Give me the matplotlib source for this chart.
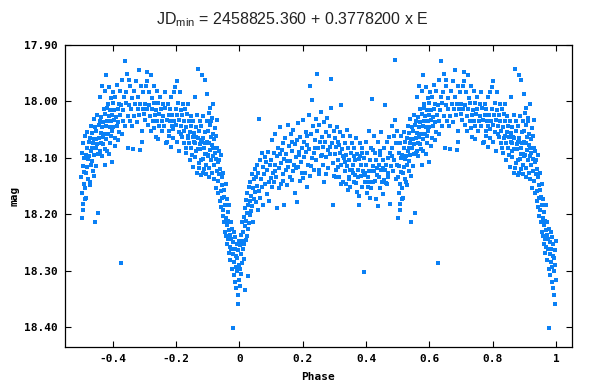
# Кривая блеска: звёздная величина в зависимости от фазы

import numpy as np
from matplotlib import pyplot as plt

# Данные (фаза и звёздная величина), считаны с рисунка по участкам
# Участок A: первый максимум
ph_a = [-0.499, -0.498, -0.497, -0.496, -0.495, -0.494, -0.493, -0.492, -0.491, -0.490,
        -0.489, -0.488, -0.486, -0.485, -0.484, -0.482, -0.481, -0.480, -0.478, -0.477,
        -0.476, -0.474, -0.473, -0.472, -0.470, -0.469, -0.468, -0.466, -0.465, -0.464,
        -0.462, -0.461, -0.460, -0.458, -0.457, -0.456, -0.454, -0.453, -0.452, -0.450,
        -0.449, -0.448, -0.446, -0.445, -0.444, -0.442, -0.441, -0.440, -0.438, -0.437,
        -0.436, -0.434, -0.433, -0.432, -0.430, -0.429, -0.428, -0.426, -0.425, -0.424,
        -0.422, -0.421, -0.420, -0.418, -0.417, -0.416, -0.414, -0.413, -0.412, -0.410,
        -0.409, -0.408, -0.406, -0.405, -0.404, -0.402, -0.401, -0.400, -0.398, -0.396,
        -0.395, -0.393, -0.392, -0.390, -0.388, -0.387, -0.385, -0.383, -0.382, -0.380,
        -0.378, -0.376, -0.374, -0.373, -0.371, -0.369, -0.367, -0.365, -0.363, -0.361,
        -0.359, -0.357, -0.355, -0.353, -0.351, -0.349, -0.347, -0.345, -0.343, -0.340,
        -0.338, -0.336, -0.334, -0.332, -0.330, -0.327, -0.325, -0.322, -0.320, -0.318,
        -0.316, -0.313, -0.311, -0.309, -0.306, -0.304, -0.302]
mag_a = [18.134, 18.207, 18.092, 18.163, 18.114, 18.182, 18.073, 18.146, 18.101, 18.125,
         18.062, 18.153, 18.094, 18.127, 18.171, 18.083, 18.116, 18.054, 18.138, 18.102,
         18.071, 18.096, 18.143, 18.064, 18.112, 18.043, 18.087, 18.105, 18.056, 18.124,
         18.073, 18.031, 18.094, 18.066, 18.213, 18.045, 18.082, 18.114, 18.053, 18.024,
         18.076, 18.093, 18.198, 18.042, 18.065, 18.034, 18.087, 17.993, 18.056, 18.027,
         18.074, 18.045, 17.972, 18.063, 18.036, 18.014, 18.057, 18.084, 18.023, 17.981,
         17.954, 18.043, 18.066, 18.012, 18.034, 18.004, 18.057, 18.026, 17.974, 18.045,
         18.073, 18.016, 18.035, 17.994, 18.052, 18.024, 18.003, 18.046, 17.983, 18.032,
         18.015, 18.064, 17.992, 18.027, 18.043, 17.971, 18.013, 18.036, 18.004, 18.055,
         17.982, 18.024, 18.287, 18.006, 17.962, 18.034, 18.015, 17.993, 17.928, 18.044,
         18.003, 17.984, 17.952, 18.026, 18.083, 18.007, 17.973, 18.035, 18.014, 17.994,
         18.043, 18.084, 18.025, 17.982, 18.004, 17.963, 18.036, 18.013, 17.992, 17.944,
         18.024, 18.005, 17.973, 18.052, 18.013, 17.984, 18.023]

# Участок B: спад к главному минимуму
ph_b = [-0.299, -0.297, -0.295, -0.293, -0.291, -0.289, -0.287, -0.285, -0.283, -0.281,
        -0.279, -0.277, -0.275, -0.273, -0.271, -0.269, -0.267, -0.265, -0.263, -0.261,
        -0.259, -0.257, -0.255, -0.253, -0.251, -0.249, -0.246, -0.244, -0.242, -0.240,
        -0.238, -0.236, -0.234, -0.232, -0.230, -0.228, -0.226, -0.224, -0.222, -0.220,
        -0.218, -0.216, -0.214, -0.212, -0.210, -0.208, -0.206, -0.204, -0.202, -0.200,
        -0.198, -0.196, -0.194, -0.192, -0.190, -0.188, -0.186, -0.184, -0.182, -0.180,
        -0.178, -0.176, -0.174, -0.172, -0.170, -0.168, -0.166, -0.164, -0.162, -0.160,
        -0.158, -0.156, -0.154, -0.152, -0.150, -0.148, -0.146, -0.144, -0.142, -0.140,
        -0.138, -0.136, -0.134, -0.132, -0.130, -0.128, -0.126, -0.124, -0.122, -0.120,
        -0.118, -0.116, -0.114, -0.112, -0.110, -0.108, -0.106, -0.104, -0.102]
mag_b = [18.004, 18.033, 17.972, 18.014, 17.963, 18.042, 18.006, 17.984, 18.025, 18.053,
         17.954, 18.013, 17.994, 18.034, 18.002, 17.973, 18.024, 18.063, 18.015, 17.982,
         18.034, 18.003, 18.044, 18.022, 17.993, 18.014, 18.053, 18.035, 18.004, 18.026,
         18.043, 17.984, 18.012, 18.074, 18.033, 18.071, 18.005, 18.024, 18.052, 18.013,
         18.034, 17.992, 18.043, 18.024, 18.064, 17.983, 18.035, 17.974, 18.013, 18.042,
         17.963, 18.024, 18.003, 18.054, 18.032, 17.984, 18.015, 18.043, 18.024, 18.063,
         18.004, 18.035, 18.053, 18.014, 18.083, 18.045, 18.023, 18.064, 18.005, 18.034,
         18.073, 18.054, 18.025, 18.043, 18.094, 18.063, 18.034, 18.056, 17.993, 18.074,
         18.045, 18.063, 18.024, 18.085, 17.942, 18.053, 18.034, 18.076, 18.104, 18.043,
         17.953, 18.064, 18.025, 18.083, 17.962, 18.054, 18.093, 18.034, 18.072]

# Участок C: главный минимум (нисходящая ветвь)
ph_c = [-0.1000, -0.0985, -0.0970, -0.0962, -0.0950, -0.0938, -0.0925, -0.0910, -0.0897, -0.0884,
        -0.0872, -0.0860, -0.0851, -0.0839, -0.0826, -0.0815, -0.0803, -0.0791, -0.0780, -0.0768,
        -0.0757, -0.0745, -0.0734, -0.0722, -0.0710, -0.0701, -0.0689, -0.0677, -0.0666, -0.0654,
        -0.0643, -0.0632, -0.0620, -0.0611, -0.0599, -0.0588, -0.0576, -0.0565, -0.0553, -0.0542,
        -0.0531, -0.0520, -0.0508, -0.0497, -0.0486, -0.0474, -0.0463, -0.0452, -0.0441, -0.0430,
        -0.0419, -0.0408, -0.0396, -0.0385, -0.0374, -0.0363, -0.0352, -0.0341, -0.0330, -0.0319,
        -0.0308, -0.0297, -0.0286, -0.0275, -0.0264, -0.0253, -0.0242, -0.0231, -0.0220, -0.0209,
        -0.0198, -0.0187, -0.0176, -0.0165, -0.0154, -0.0143, -0.0132, -0.0121, -0.0110, -0.0099,
        -0.0088, -0.0077, -0.0066, -0.0055, -0.0044, -0.0033, -0.0022, -0.0011, -0.0004]
mag_c = [18.052, 18.094, 18.021, 18.073, 18.118, 18.041, 18.086, 18.063, 18.104, 18.035,
         18.078, 18.127, 18.057, 18.096, 18.082, 18.138, 18.066, 18.112, 18.091, 18.047,
         18.153, 18.102, 18.061, 18.124, 18.083, 18.032, 18.141, 18.108, 18.163, 18.087,
         18.129, 18.104, 18.176, 18.119, 18.158, 18.095, 18.187, 18.134, 18.171, 18.148,
         18.203, 18.126, 18.192, 18.157, 18.214, 18.169, 18.231, 18.184, 18.146, 18.207,
         18.238, 18.173, 18.219, 18.252, 18.196, 18.243, 18.211, 18.268, 18.228, 18.183,
         18.257, 18.236, 18.281, 18.214, 18.262, 18.244, 18.297, 18.226, 18.402, 18.271,
         18.249, 18.308, 18.232, 18.284, 18.262, 18.319, 18.241, 18.293, 18.273, 18.331,
         18.252, 18.301, 18.278, 18.342, 18.264, 18.358, 18.289, 18.247, 18.316]

# Участок D: главный минимум (восходящая ветвь)
ph_d = [0.0006, 0.0017, 0.0028, 0.0039, 0.0050, 0.0061, 0.0072, 0.0083, 0.0094, 0.0105,
        0.0116, 0.0127, 0.0138, 0.0149, 0.0160, 0.0171, 0.0182, 0.0193, 0.0204, 0.0215,
        0.0226, 0.0238, 0.0249, 0.0261, 0.0272, 0.0284, 0.0296, 0.0309, 0.0321, 0.0334,
        0.0347, 0.0361, 0.0374, 0.0388, 0.0402, 0.0417, 0.0431, 0.0446, 0.0461, 0.0477,
        0.0492, 0.0508, 0.0524, 0.0541, 0.0557, 0.0574, 0.0591, 0.0609, 0.0626, 0.0644,
        0.0662, 0.0681, 0.0699, 0.0718, 0.0737, 0.0756, 0.0776, 0.0795, 0.0815, 0.0835,
        0.0855, 0.0875, 0.0896, 0.0917, 0.0938, 0.0959, 0.0981]
mag_d = [18.296, 18.254, 18.327, 18.271, 18.236, 18.305, 18.248, 18.286, 18.214, 18.262,
         18.231, 18.279, 18.205, 18.252, 18.334, 18.221, 18.189, 18.246, 18.212, 18.174,
         18.238, 18.197, 18.162, 18.226, 18.309, 18.183, 18.215, 18.152, 18.201, 18.176,
         18.143, 18.194, 18.167, 18.128, 18.186, 18.154, 18.213, 18.137, 18.172, 18.119,
         18.161, 18.134, 18.178, 18.112, 18.149, 18.193, 18.126, 18.158, 18.031, 18.104,
         18.171, 18.138, 18.092, 18.152, 18.117, 18.183, 18.129, 18.098, 18.146, 18.107,
         18.164, 18.121, 18.089, 18.142, 18.176, 18.113, 18.135]

# Участок E: второй максимум
ph_e = [0.1003, 0.1021, 0.1038, 0.1059, 0.1077, 0.1096, 0.1118, 0.1135, 0.1157, 0.1174,
        0.1195, 0.1216, 0.1233, 0.1254, 0.1279, 0.1297, 0.1318, 0.1336, 0.1359, 0.1377,
        0.1398, 0.1419, 0.1441, 0.1462, 0.1478, 0.1503, 0.1521, 0.1542, 0.1566, 0.1581,
        0.1604, 0.1623, 0.1645, 0.1661, 0.1684, 0.1702, 0.1724, 0.1739, 0.1763, 0.1782,
        0.1801, 0.1826, 0.1843, 0.1859, 0.1884, 0.1902, 0.1923, 0.1941, 0.1964, 0.1986,
        0.2004, 0.2022, 0.2043, 0.2061, 0.2085, 0.2103, 0.2121, 0.2146, 0.2162, 0.2183,
        0.2205, 0.2224, 0.2238, 0.2264, 0.2281, 0.2302, 0.2326, 0.2341, 0.2363, 0.2384,
        0.2402, 0.2423, 0.2447, 0.2462, 0.2481, 0.2504, 0.2522, 0.2543, 0.2561, 0.2586,
        0.2603, 0.2624, 0.2641, 0.2665, 0.2683, 0.2702, 0.2721, 0.2744, 0.2762, 0.2785,
        0.2801, 0.2823, 0.2846, 0.2861, 0.2884, 0.2903, 0.2922, 0.2947, 0.2963, 0.2982]
mag_e = [18.104, 18.152, 18.068, 18.127, 18.091, 18.143, 18.113, 18.057, 18.134, 18.188,
         18.097, 18.082, 18.154, 18.118, 18.046, 18.109, 18.147, 18.086, 18.073, 18.129,
         18.102, 18.183, 18.064, 18.121, 18.093, 18.148, 18.042, 18.116, 18.079, 18.133,
         18.106, 18.058, 18.139, 18.087, 18.124, 18.051, 18.112, 18.076, 18.162, 18.098,
         18.178, 18.069, 18.117, 18.038, 18.094, 18.141, 18.063, 18.108, 18.082, 18.127,
         18.033, 18.098, 18.072, 18.126, 18.054, 18.089, 18.151, 18.061, 18.113, 18.024,
         18.084, 17.972, 18.132, 18.058, 18.101, 17.998, 18.043, 18.091, 18.122, 18.068,
         18.031, 18.104, 18.052, 17.951, 18.083, 18.128, 18.042, 18.071, 18.096, 18.019,
         18.063, 18.112, 18.081, 18.037, 18.143, 18.072, 18.054, 18.098, 18.029, 18.086,
         18.118, 18.061, 18.093, 18.044, 18.012, 17.961, 18.074, 18.109, 18.183, 18.052]

# Участок F: вторичный минимум
ph_f = [0.3004, 0.3023, 0.3041, 0.3062, 0.3079, 0.3103, 0.3121, 0.3138, 0.3162, 0.3181,
        0.3202, 0.3219, 0.3243, 0.3261, 0.3284, 0.3302, 0.3318, 0.3342, 0.3361, 0.3383,
        0.3401, 0.3422, 0.3444, 0.3459, 0.3482, 0.3504, 0.3523, 0.3541, 0.3562, 0.3584,
        0.3603, 0.3621, 0.3642, 0.3661, 0.3683, 0.3702, 0.3724, 0.3741, 0.3763, 0.3782,
        0.3801, 0.3823, 0.3842, 0.3861, 0.3879, 0.3903, 0.3921, 0.3942, 0.3961, 0.3983,
        0.4002, 0.4024, 0.4041, 0.4063, 0.4081, 0.4104, 0.4122, 0.4141, 0.4163, 0.4181,
        0.4203, 0.4221, 0.4243, 0.4262, 0.4281, 0.4302, 0.4324, 0.4341, 0.4362, 0.4383,
        0.4401, 0.4422, 0.4444, 0.4461, 0.4483, 0.4502, 0.4521, 0.4543, 0.4562, 0.4584,
        0.4602, 0.4623, 0.4641, 0.4663, 0.4682, 0.4703, 0.4721, 0.4744, 0.4762, 0.4781,
        0.4803, 0.4822, 0.4841, 0.4864, 0.4882, 0.4901, 0.4923, 0.4942, 0.4961, 0.4984]
mag_f = [18.093, 18.064, 18.122, 18.081, 18.046, 18.104, 18.072, 18.133, 18.091, 18.054,
         18.007, 18.113, 18.084, 18.142, 18.062, 18.101, 18.073, 18.124, 18.094, 18.051,
         18.114, 18.082, 18.133, 18.103, 18.061, 18.152, 18.092, 18.121, 18.073, 18.112,
         18.142, 18.083, 18.104, 18.131, 18.064, 18.161, 18.093, 18.122, 18.183, 18.102,
         18.074, 18.132, 18.113, 18.151, 18.082, 18.124, 18.302, 18.101, 18.143, 18.072,
         18.113, 18.162, 18.091, 18.133, 18.052, 18.124, 18.103, 18.154, 18.082, 17.995,
         18.114, 18.143, 18.062, 18.123, 18.092, 18.172, 18.104, 18.131, 18.186, 18.071,
         18.112, 18.153, 18.094, 18.121, 18.054, 18.142, 18.103, 18.164, 18.083, 18.122,
         18.006, 18.113, 18.144, 18.072, 18.101, 18.134, 18.063, 18.181, 18.092, 18.114,
         18.043, 18.082, 18.123, 18.061, 18.104, 18.032, 17.926, 18.074, 18.113, 18.052]

# Дополнительные точки в плотных местах
ph_g = [0.1112, 0.1265, 0.1387, 0.1514, 0.1648, 0.1776, 0.1893, 0.2018, 0.2137, 0.2254,
        0.2372, 0.2495, 0.2611, 0.2736, 0.2858, 0.2977, 0.3096, 0.3214, 0.3337, 0.3455,
        0.3572, 0.3693, 0.3816, 0.3934, 0.4052, 0.4176, 0.4293, 0.4418, 0.4536, 0.4657,
        0.3128, 0.3254, 0.3373, 0.3495, 0.3617, 0.3734, 0.3857, 0.3978, 0.4097, 0.4215,
        0.4332, 0.4451, 0.4573, 0.4694, 0.4812, 0.4934, 0.3053, 0.3415, 0.3778, 0.4137,
        -0.4783, -0.4652, -0.4527, -0.4418, -0.4306, -0.4195, -0.4071, -0.3946, -0.3824, -0.3702,
        -0.1387, -0.1294, -0.1215, -0.1163, -0.1098, -0.1052, -0.1017, -0.0943, -0.0876, -0.0821]
mag_g = [18.124, 18.093, 18.141, 18.106, 18.072, 18.118, 18.089, 18.136, 18.077, 18.114,
         18.083, 18.121, 18.095, 18.128, 18.081, 18.132, 18.117, 18.146, 18.108, 18.137,
         18.126, 18.144, 18.097, 18.131, 18.152, 18.123, 18.141, 18.133, 18.118, 18.147,
         18.078, 18.097, 18.146, 18.122, 18.096, 18.134, 18.092, 18.127, 18.142, 18.086,
         18.118, 18.087, 18.139, 18.126, 18.097, 18.138, 18.133, 18.156, 18.167, 18.171,
         18.098, 18.083, 18.067, 18.092, 18.075, 18.088, 18.062, 18.079, 18.068, 18.057,
         18.087, 18.118, 18.072, 18.126, 18.093, 18.112, 17.986, 18.011, 18.029, 18.004]

# Ещё точки: нижний край первого максимума
ph_h = [-0.1752, -0.1683, -0.1624, -0.1571, -0.1518, -0.1472, -0.1436, -0.1392, -0.1347, -0.1318,
        -0.1276, -0.1244, -0.1208, -0.1181, -0.1142, -0.1113, -0.1076, -0.1042, -0.1009, -0.0968,
        -0.2213, -0.2148, -0.2087, -0.1984, -0.1913, -0.1846, -0.2562, -0.2688, -0.3094, -0.3147,
        -0.4112, -0.4027, -0.4236, -0.4351, -0.4584, -0.4705, -0.4863, -0.4931, -0.3486, -0.2915]
mag_h = [18.074, 18.091, 18.062, 18.103, 18.083, 18.117, 18.071, 18.098, 18.126, 18.064,
         18.109, 18.085, 18.131, 18.068, 18.102, 18.119, 18.074, 18.128, 18.096, 18.133,
         18.062, 18.081, 18.049, 18.072, 18.088, 18.058, 18.066, 18.047, 18.072, 18.086,
         18.093, 18.108, 18.112, 18.097, 18.132, 18.148, 18.172, 18.193, 17.962, 17.948]

x_ticks = [-0.4, -0.2, 0, 0.2, 0.4, 0.6, 0.8, 1]
x_tick_labels = ['-0.4', '-0.2', '0', '0.2', '0.4', '0.6', '0.8', '1']
y_ticks = [17.90, 18.00, 18.10, 18.20, 18.30, 18.40]

title = r'JD$_{\mathregular{min}}$ = 2458825.360 + 0.3778200 x E'

# Собираем все участки в один массив
phase = np.concatenate([ph_a, ph_b, ph_c, ph_d, ph_e, ph_f, ph_g, ph_h])
mag = np.concatenate([mag_a, mag_b, mag_c, mag_d, mag_e, mag_f, mag_g, mag_h])
# Точки с отрицательной фазой повторяются справа (фаза + 1)
neg = phase < 0
x = np.concatenate([phase, phase[neg] + 1])
y = np.concatenate([mag, mag[neg]])

fig = plt.figure(figsize=(6.14, 3.92), dpi=100)
ax = fig.add_axes([65 / 614, 1 - 347 / 392, 507 / 614, 302 / 392])
ax.plot(x, y, 's', color='#0a80f5', markersize=2.3, markeredgewidth=0)

ax.set_xlim(-0.551, 1.05)
ax.set_ylim(18.435, 17.90)  # звёздная величина - ось вниз
ax.set_xticks(x_ticks)
ax.set_xticklabels(x_tick_labels)
ax.set_yticks(y_ticks)
ax.set_yticklabels(['%.2f' % v for v in y_ticks])

mono = {'family': 'DejaVu Sans Mono', 'weight': 'bold', 'size': 8}
ax.tick_params(direction='in', top=True, right=True, length=4, width=0.8, pad=5)
for lbl in ax.get_xticklabels() + ax.get_yticklabels():
    lbl.set_fontproperties(mono)
for sp in ax.spines.values():
    sp.set_linewidth(0.9)

ax.set_xlabel('Phase', fontdict=mono)
ax.set_ylabel('mag', fontdict=mono)
ax.xaxis.set_label_coords(0.5, -0.083)
ax.yaxis.set_label_coords(-0.09, 0.5)

fig.text(0.476, 0.949, title, family='Liberation Sans', fontsize=11.5,
         color='#222222', ha='center', va='center')

fig.savefig('out.png', dpi=100)
